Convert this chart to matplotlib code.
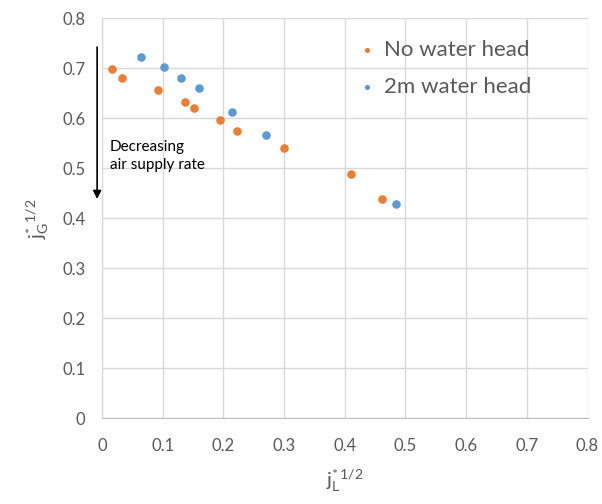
import matplotlib
matplotlib.use("Agg")
import matplotlib.pyplot as plt

plt.rcParams['font.family'] = ['Lato', 'DejaVu Sans']
plt.rcParams['mathtext.fontset'] = 'custom'
plt.rcParams['mathtext.rm'] = 'Lato'
plt.rcParams['mathtext.it'] = 'Lato:italic'

# data
no_head_x = [0.016, 0.033, 0.093, 0.137, 0.151, 0.194, 0.222, 0.300, 0.410, 0.462]
no_head_y = [0.698, 0.680, 0.656, 0.632, 0.620, 0.596, 0.574, 0.541, 0.489, 0.439]
head_2m_x = [0.064, 0.103, 0.131, 0.160, 0.215, 0.271, 0.485]
head_2m_y = [0.723, 0.702, 0.680, 0.660, 0.612, 0.567, 0.429]
ticks = [0, 0.1, 0.2, 0.3, 0.4, 0.5, 0.6, 0.7, 0.8]
tick_labels = ['0', '0.1', '0.2', '0.3', '0.4', '0.5', '0.6', '0.7', '0.8']

orange = '#ED7D31'
blue = '#5B9BD5'
grey_text = '#595959'

fig = plt.figure(figsize=(6.02, 5.04), dpi=100)
ax = fig.add_axes([0.1694, 0.170, 0.8066, 0.7937])

ax.scatter(no_head_x, no_head_y, s=38, color=orange, label='No water head', zorder=3, linewidths=0)
ax.scatter(head_2m_x, head_2m_y, s=38, color=blue, label='2m water head', zorder=3, linewidths=0)

ax.set_xlim(0, 0.8)
ax.set_ylim(0, 0.8)
ax.set_xticks(ticks)
ax.set_xticklabels(tick_labels)
ax.set_yticks(ticks)
ax.set_yticklabels(tick_labels)
ax.tick_params(length=0, labelsize=12, labelcolor=grey_text)
ax.tick_params(axis='x', pad=14)
ax.tick_params(axis='y', pad=12)

ax.grid(True, color='#d9d9d9', linewidth=1)
ax.set_axisbelow(True)
for side in ['top', 'right']:
    ax.spines[side].set_visible(False)
ax.spines['left'].set_color('#d9d9d9')
ax.spines['bottom'].set_color('#bfbfbf')

ax.set_xlabel(r'$\mathregular{j^{*}_{L}{}^{1/2}}$', fontsize=14.5, color=grey_text, labelpad=10)
ax.set_ylabel(r'$\mathregular{j^{*}_{G}{}^{1/2}}$', fontsize=14.5, color=grey_text, labelpad=8)

# arrow for decreasing air supply rate
ax.annotate('', xy=(-0.008, 0.433), xytext=(-0.008, 0.748),
            arrowprops=dict(arrowstyle='-|>', color='black', lw=1.2, mutation_scale=12),
            annotation_clip=False)
ax.text(0.013, 0.557, 'Decreasing\nair supply rate', fontsize=11, va='top', ha='left',
        linespacing=1.4, color='black')

leg = ax.legend(loc='upper left', bbox_to_anchor=(0.486, 0.995), frameon=False,
                fontsize=16, markerscale=0.6, handlelength=0.8, handletextpad=0.35,
                labelspacing=0.75)
for t in leg.get_texts():
    t.set_color(grey_text)

fig.savefig('out.png', dpi=100)
